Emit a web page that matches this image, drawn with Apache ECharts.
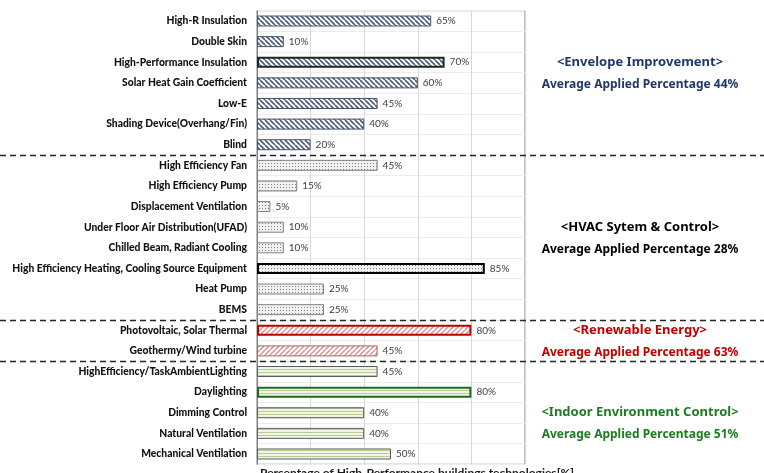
<!DOCTYPE html>
<html>
<head>
<meta charset="utf-8">
<script src="https://cdn.jsdelivr.net/npm/echarts@6/dist/echarts.min.js"></script>
<style>
  html, body { margin: 0; padding: 0; background: #fff; }
  #chart { width: 764px; height: 473px; }
</style>
</head>
<body>
<div id="chart"></div>
<script>
// technologies per group, top to bottom, with applied percentage
const envelopeLabels = ["High-R Insulation", "Double Skin", "High-Performance Insulation", "Solar Heat Gain Coefficient", "Low-E", "Shading Device(Overhang/Fin)", "Blind"];
const envelopeValues = [65, 10, 70, 60, 45, 40, 20];

const hvacLabels = ["High Efficiency Fan", "High Efficiency Pump", "Displacement Ventilation", "Under Floor Air Distribution(UFAD)", "Chilled Beam, Radiant Cooling", "High Efficiency Heating, Cooling Source Equipment", "Heat Pump", "BEMS"];
const hvacValues = [45, 15, 5, 10, 10, 85, 25, 25];

const renewableLabels = ["Photovoltaic, Solar Thermal", "Geothermy/Wind turbine"];
const renewableValues = [80, 45];

const indoorLabels = ["HighEfficiency/TaskAmbientLighting", "Daylighting", "Dimming Control", "Natural Ventilation", "Mechanical Ventilation"];
const indoorValues = [45, 80, 40, 40, 50];

const groupTitles = ["<Envelope Improvement>", "<HVAC Sytem & Control>", "<Renewable Energy>", "<Indoor Environment Control>"];
const axisTitle = "Percentage of High-Performance buildings technologies[%]";

function makePattern(w, h, draw) {
    const c = document.createElement("canvas");
    c.width = w;
    c.height = h;
    draw(c.getContext("2d"));
    return { image: c, repeat: "repeat" };
}

const backslash = makePattern(5, 5, (ctx) => {
    ctx.fillStyle = "#fff";
    ctx.fillRect(0, 0, 5, 5);
    ctx.strokeStyle = "#4a5a78";
    ctx.lineWidth = 1.6;
    for (let k = -1; k <= 1; k++) {
        ctx.beginPath();
        ctx.moveTo(k * 5, 0);
        ctx.lineTo(k * 5 + 5, 5);
        ctx.stroke();
    }
});
const dots = makePattern(3, 3, (ctx) => {
    ctx.fillStyle = "#f0f0f0";
    ctx.fillRect(0, 0, 3, 3);
    ctx.fillStyle = "#808080";
    ctx.fillRect(1, 1, 1, 1);
});
const slash = makePattern(5, 5, (ctx) => {
    ctx.fillStyle = "#fff";
    ctx.fillRect(0, 0, 5, 5);
    ctx.strokeStyle = "#d98a8c";
    ctx.lineWidth = 1.3;
    for (let k = -1; k <= 1; k++) {
        ctx.beginPath();
        ctx.moveTo(k * 5, 5);
        ctx.lineTo(k * 5 + 5, 0);
        ctx.stroke();
    }
});
const hstripes = makePattern(3, 3, (ctx) => {
    ctx.fillStyle = "#f1f5e6";
    ctx.fillRect(0, 0, 3, 3);
    ctx.fillStyle = "#b9cc94";
    ctx.fillRect(0, 0, 3, 1);
});

const groups = [
    { labels: envelopeLabels, values: envelopeValues, fill: backslash, border: "#44546a", strong: "#1c2a22", text: "#1f3864" },
    { labels: hvacLabels, values: hvacValues, fill: dots, border: "#808080", strong: "#000", text: "#000" },
    { labels: renewableLabels, values: renewableValues, fill: slash, border: "#9a6a6a", strong: "#c00000", text: "#c00000" },
    { labels: indoorLabels, values: indoorValues, fill: hstripes, border: "#5a5a5a", strong: "#1e6b1e", text: "#1e7b22" },
];

const categories = [];
const barData = [];
groups.forEach((g) => {
    const top = Math.max(...g.values);
    g.labels.forEach((label, i) => {
        categories.push(label);
        const isTop = g.values[i] === top;
        barData.push({
            value: g.values[i],
            itemStyle: {
                color: g.fill,
                borderColor: isTop ? g.strong : g.border,
                borderWidth: isTop ? 2 : 1,
            },
        });
    });
});

const chart = echarts.init(document.getElementById("chart"));
chart.setOption({
    animation: false,
    backgroundColor: "#fff",
    grid: {
        left: 257,
        right: 239,
        top: 10.7,
        bottom: 8.7,
        outerBoundsMode: "none",
        show: true,
        borderColor: "#7f7f7f",
        borderWidth: 1,
    },
    xAxis: {
        type: "value",
        min: 0,
        max: 100,
        interval: 20,
        axisLabel: { show: false },
        axisTick: { show: false },
        axisLine: { show: false },
        splitLine: { lineStyle: { color: "#d9d9d9" } },
        name: axisTitle,
        nameLocation: "middle",
        nameGap: 3,
        nameTextStyle: {
            fontFamily: "Lato",
            fontWeight: "bold",
            fontSize: 12,
            color: "#1a1a1a",
            verticalAlign: "top",
            padding: [0, 0, 0, 52],
        },
    },
    yAxis: {
        type: "category",
        inverse: true,
        data: categories,
        axisLine: { lineStyle: { color: "#7f7f7f" } },
        axisTick: { length: 4, lineStyle: { color: "#8c8c8c" } },
        splitLine: { show: true, lineStyle: { color: "#ececec" } },
        axisLabel: {
            fontFamily: "Lato",
            fontWeight: 900,
            fontSize: 10.3,
            color: "#111",
            margin: 10,
        },
    },
    series: [
        {
            type: "bar",
            data: barData,
            barWidth: 11,
            label: {
                show: true,
                position: "right",
                distance: 5,
                formatter: "{c}%",
                fontFamily: "Lato",
                fontSize: 10,
                color: "#404040",
            },
        },
    ],
});

// separators between groups and the group summaries on the right
const rowY = (i) => chart.convertToPixel({ yAxisIndex: 0 }, i);
const titleRows = [2.15, 10, 15, 19];
const graphics = [];
let start = 0;
groups.forEach((g, gi) => {
    if (gi > 0) {
        const y = Math.round((rowY(start - 1) + rowY(start)) / 2) + 0.5;
        graphics.push({
            type: "line",
            shape: { x1: 0, y1: y, x2: 764, y2: y },
            style: { stroke: "#262626", lineWidth: 1.5, lineDash: [6, 4] },
            z: 10,
        });
    }
    const avg = Math.round(g.values.reduce((a, b) => a + b, 0) / g.values.length);
    const ty = rowY(titleRows[gi]);
    graphics.push({
        type: "text",
        x: 640,
        y: ty,
        style: {
            text: groupTitles[gi],
            fill: g.text,
            font: "bold 13px 'Noto Sans'",
            textAlign: "center",
            textVerticalAlign: "middle",
        },
    });
    graphics.push({
        type: "text",
        x: 640,
        y: ty + 22,
        style: {
            text: "Average Applied Percentage " + avg + "%",
            fill: g.text,
            font: "bold 12px 'Noto Sans'",
            textAlign: "center",
            textVerticalAlign: "middle",
        },
    });
    start += g.labels.length;
});
chart.setOption({ graphic: graphics });
</script>
</body>
</html>
